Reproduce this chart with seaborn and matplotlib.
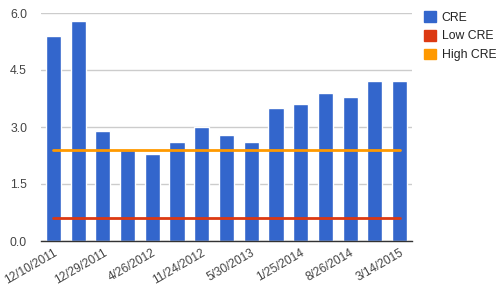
import matplotlib
matplotlib.use("Agg")
import matplotlib.pyplot as plt
import matplotlib.patches as mpatches
import seaborn as sns
import pandas as pd

# Data
bar_ids = list(range(15))
cre = [5.4, 5.8, 2.9, 2.4, 2.3, 2.6, 3.0, 2.8, 2.6, 3.5, 3.6, 3.9, 3.8, 4.2, 4.2]
low_cre = [0.6] * 15
high_cre = [2.4] * 15
tick_labels = ["12/10/2011", "12/29/2011", "4/26/2012", "11/24/2012",
               "5/30/2013", "1/25/2014", "8/26/2014", "3/14/2015"]
series_names = ["CRE", "Low CRE", "High CRE"]
yticks = [0.0, 1.5, 3.0, 4.5, 6.0]

colors = {"CRE": "#3366CC", "Low CRE": "#DC3912", "High CRE": "#FF9900"}

sns.set_style("white")
plt.rcParams["font.family"] = ["Liberation Sans", "DejaVu Sans"]

fig = plt.figure(figsize=(4.96, 2.87), dpi=100)
ax = fig.add_axes([41/496, 1 - 241/287, (412-41)/496, (241-13)/287])

df = pd.DataFrame({"id": bar_ids, "CRE": cre, "low": low_cre, "high": high_cre})
sns.barplot(data=df, x="id", y="CRE", color=colors["CRE"], saturation=1,
            width=0.61, ax=ax, zorder=2)
sns.lineplot(x=list(range(len(low_cre))), y=low_cre, color=colors["Low CRE"],
             linewidth=2, ax=ax, zorder=3)
sns.lineplot(x=list(range(len(high_cre))), y=high_cre, color=colors["High CRE"],
             linewidth=2, ax=ax, zorder=3)

ax.set_xlim(-0.5, 14.5)
ax.set_ylim(0, 6.0)
ax.set_yticks(yticks)
ax.set_yticklabels([f"{v:.1f}" for v in yticks])
ax.set_xticks(bar_ids[::2])
ax.set_xticklabels(tick_labels, rotation=30, ha="right", rotation_mode="anchor")
ax.tick_params(axis="both", length=0, labelcolor="#444444")
ax.tick_params(axis="y", labelsize=8.8, pad=10)
ax.tick_params(axis="x", labelsize=8.6, pad=4)
ax.set_xlabel("")
ax.set_ylabel("")
ax.grid(axis="y", color="#cccccc", linewidth=1, zorder=0)
ax.set_axisbelow(True)
for s in ["top", "right", "left"]:
    ax.spines[s].set_visible(False)
ax.spines["bottom"].set_color("#333333")
ax.spines["bottom"].set_linewidth(1)
ax.spines["bottom"].set_zorder(4)

handles = [mpatches.Patch(color=colors[n], label=n) for n in series_names]
fig.legend(handles=handles, loc="upper left", bbox_to_anchor=(424/496, 1 - 11/287),
           frameon=False, fontsize=8.8, handlelength=1.0, handleheight=1.0,
           handletextpad=0.45, labelspacing=0.5, borderpad=0, borderaxespad=0,
           labelcolor="#222222")

fig.savefig("out.png", dpi=100)
